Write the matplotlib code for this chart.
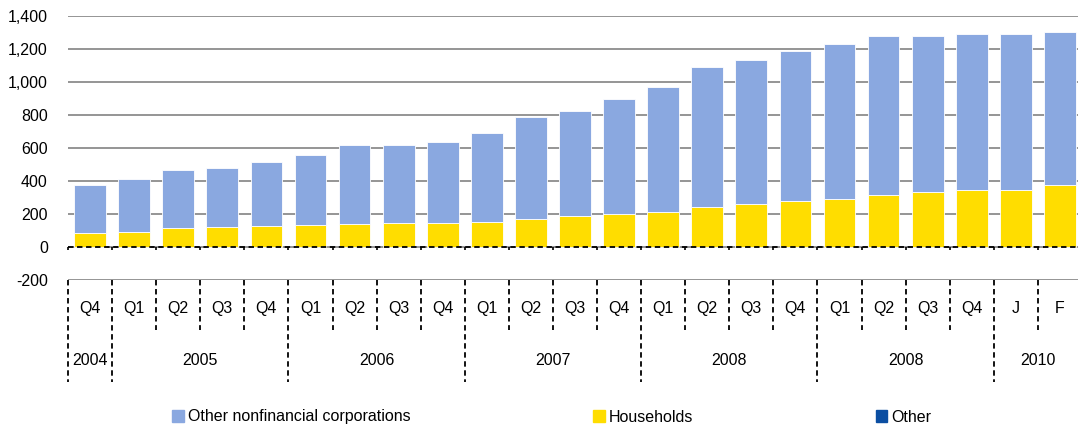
import numpy as np
import matplotlib
matplotlib.use('Agg')
import matplotlib.pyplot as plt
from matplotlib.patches import Patch

plt.rcParams['font.family'] = ['Liberation Sans', 'DejaVu Sans']
plt.rcParams['font.size'] = 11.5

# quarters / months along the axis
periods = ['Q4', 'Q1', 'Q2', 'Q3', 'Q4', 'Q1', 'Q2', 'Q3', 'Q4', 'Q1', 'Q2', 'Q3',
           'Q4', 'Q1', 'Q2', 'Q3', 'Q4', 'Q1', 'Q2', 'Q3', 'Q4', 'J', 'F']
years = ['2004', '2005', '2006', '2007', '2008', '2008', '2010']
year_sizes = [1, 4, 4, 4, 4, 4, 2]

# values
households = [83, 89, 113, 123, 127, 130, 137, 145, 148, 154, 170, 186,
              200, 212, 239, 263, 281, 289, 313, 331, 345, 345, 374]
total = [374, 414, 467, 477, 513, 556, 616, 620, 636, 687, 784, 824,
         893, 970, 1089, 1130, 1184, 1230, 1280, 1279, 1289, 1287, 1299]
other_nfc = [t - h for t, h in zip(total, households)]
other = [0] * len(periods)

c_nfc = '#8AA8E0'
c_hh = '#FFDD00'
c_oth = '#0B4EA2'

fig = plt.figure(figsize=(10.78, 4.28), dpi=100)
ax = fig.add_axes([68 / 1078, 1 - 280 / 428, 1014 / 1078, (280 - 15.7) / 428])

x = np.arange(len(periods))
w = 0.72
ax.bar(x, households, w, color=c_hh, edgecolor='white', linewidth=0.6, zorder=3)
ax.bar(x, other_nfc, w, bottom=households, color=c_nfc, edgecolor='white', linewidth=0.6, zorder=3)
ax.bar(x, other, w, bottom=total, color=c_oth, zorder=3)

ax.set_xlim(-0.5, len(periods) - 0.5)
ax.set_ylim(-200, 1400)
ax.set_yticks(np.arange(-200, 1401, 200))
ax.set_yticklabels([f'{v:,}' for v in range(-200, 1401, 200)])
ax.yaxis.grid(True, color='#8c8c8c', linewidth=1.3, zorder=0)
ax.set_axisbelow(True)
ax.tick_params(axis='y', length=0, pad=14.5)
ax.set_xticks([])
for s in ax.spines.values():
    s.set_visible(False)

# dashed zero line with small ticks
ax.plot([-0.5, len(periods) - 0.5], [0, 0], color='black', linestyle=(0, (3, 2)),
        linewidth=1.3, zorder=4, clip_on=False)
bounds = np.arange(len(periods) + 1) - 0.5
ax.vlines(bounds, -18, 0, color='black', linewidth=1.2, zorder=4, clip_on=False)

# category axis below -200
year_bounds = np.cumsum([0] + year_sizes) - 0.5
for b in bounds:
    if b in year_bounds:
        y_end = -816
    else:
        y_end = -503
    ax.plot([b, b], [-200, y_end], color='black', linestyle=(0, (3, 2)),
            linewidth=1.3, clip_on=False)
for i, p in enumerate(periods):
    ax.text(i, -370, p, ha='center', va='center', clip_on=False)
start = 0
for yr, n in zip(years, year_sizes):
    ax.text(start + (n - 1) / 2, -685, yr, ha='center', va='center', clip_on=False)
    start += n

handles = [Patch(color=c_nfc), Patch(color=c_hh), Patch(color=c_oth)]
labels = ['Other nonfinancial corporations', 'Households', 'Other']
fig.legend(handles, labels, loc='center', bbox_to_anchor=(0.512, 1 - 417 / 428), ncol=3,
           frameon=False, handlelength=0.75, handleheight=0.75, handletextpad=0.25,
           columnspacing=11.4)

fig.savefig('out.png', dpi=100)
